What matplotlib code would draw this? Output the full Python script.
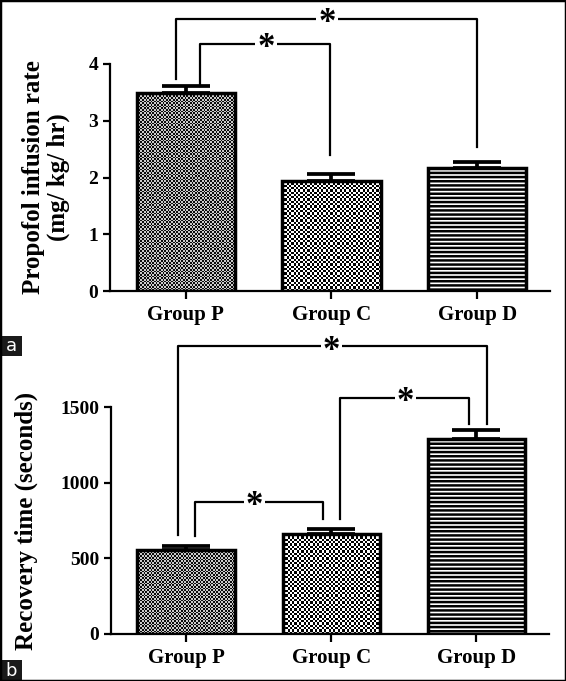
import numpy as np
import matplotlib
matplotlib.use("Agg")
import matplotlib.pyplot as plt
from matplotlib.patches import Rectangle

plt.rcParams['font.family'] = ['Liberation Serif', 'DejaVu Serif']
plt.rcParams['font.weight'] = 'bold'
plt.rcParams['axes.labelweight'] = 'bold'
plt.rcParams['hatch.linewidth'] = 1.8

groups = ["Group P", "Group C", "Group D"]

# panel a: propofol infusion rate (mg/kg/hr)
rate_mean = [3.49, 1.94, 2.16]
rate_err = [0.12, 0.12, 0.12]

# panel b: recovery time (s)
rec_mean = [554, 660, 1287]
rec_err = [27, 33, 63]

# significance brackets: (x_left, x_right, y_left, y_right, y_top, x_star)
sig_a = [
    (0.10, 0.99, 3.62, 2.39, 4.35, 0.55),
    (-0.07, 2.00, 3.74, 2.53, 4.80, 0.97),
]
sig_b = [
    (0.06, 0.94, 649, 763, 875, 0.47),
    (1.06, 1.95, 763, 1390, 1559, 1.51),
    (-0.06, 2.07, 653, 1390, 1900, 1.00),
]

W, H = 566, 681
fig = plt.figure(figsize=(W / 100, H / 100), dpi=100)
ax_a = fig.add_axes([110 / W, 1 - 291 / H, 440 / W, 227 / H])
ax_b = fig.add_axes([111 / W, 1 - 634 / H, 438 / W, 227 / H])


def checker(ax, bar, cell_px, light, dark):
    x0, y0 = bar.get_x(), bar.get_y()
    x1, y1 = x0 + bar.get_width(), y0 + bar.get_height()
    p0 = ax.transData.transform((x0, y0))
    p1 = ax.transData.transform((x1, y1))
    nx = max(2, int(round(abs(p1[0] - p0[0]) / cell_px)))
    ny = max(2, int(round(abs(p1[1] - p0[1]) / cell_px)))
    yy, xx = np.indices((ny, nx))
    img = np.where((xx + yy) % 2 == 1, dark, light)
    im = ax.imshow(img, cmap="gray_r", vmin=0, vmax=1, extent=(x0, x1, y0, y1),
                   interpolation="nearest", aspect="auto", zorder=2)
    im.set_clip_path(bar)


def panel(ax, means, errs, ylim, yticks, ylabel, label_x, sigs, star_dy):
    x = np.arange(len(groups))
    ax.set_xlim(-0.52, 2.5)
    ax.set_ylim(*ylim)
    bars = ax.bar(x, means, width=0.675, facecolor="none", edgecolor="black",
                  linewidth=2.5, zorder=3)
    bars[2].set_hatch("----")
    bars[2].set_facecolor("white")
    bars[2].set_zorder(2.5)
    checker(ax, bars[0], 1.7, 0.2, 0.95)
    checker(ax, bars[1], 2.3, 0.0, 1.0)
    ax.errorbar(x, means, yerr=[np.zeros(len(errs)), errs], fmt="none",
                ecolor="black", elinewidth=2.7, capsize=17, capthick=2.7, zorder=4)
    ax.set_xticks(x)
    ax.set_xticklabels(groups, fontsize=15)
    ax.set_yticks(yticks)
    ax.tick_params(axis="y", labelsize=14, width=1.6, length=5, direction="out")
    ax.tick_params(axis="x", width=1.6, length=6, direction="out", pad=4)
    for s in ("top", "right"):
        ax.spines[s].set_visible(False)
    for s in ("left", "bottom"):
        ax.spines[s].set_linewidth(1.6)
    ax.set_ylabel(ylabel, fontsize=18, fontweight="bold", linespacing=1.1)
    ax.yaxis.set_label_coords(label_x, 0.5)
    for xl, xr, yl, yr, yt, xs in sigs:
        ax.plot([xl, xl, xr, xr], [yl, yt, yt, yr], color="black", lw=1.6,
                clip_on=False, zorder=5)
        ax.text(xs, yt + star_dy, "*", fontsize=25, ha="center", va="center",
                clip_on=False, zorder=6,
                bbox=dict(facecolor="white", edgecolor="none", pad=1.5))


panel(ax_a, rate_mean, rate_err, (0, 4), [0, 1, 2, 3, 4],
      "Propofol infusion rate\n(mg/ kg/ hr)", -0.091, sig_a, -0.08)
panel(ax_b, rec_mean, rec_err, (0, 1500), [0, 500, 1000, 1500],
      "Recovery time (seconds)", -0.167, sig_b, -30)

# panel tags and outer frame
for y0, h, tag in [(1 - 356 / H, 20 / H, "a"), (0, 21 / H, "b")]:
    fig.add_artist(Rectangle((0, y0), 22 / W, h, transform=fig.transFigure,
                             facecolor="#1a1a1a", edgecolor="none"))
    fig.text(11 / W, y0 + h / 2, tag, color="white", fontsize=13,
             family="DejaVu Sans", weight="normal", ha="center", va="center")
fig.add_artist(Rectangle((0, 0), 1, 1, transform=fig.transFigure, fill=False,
                         edgecolor="black", linewidth=2.5))

fig.savefig("out.png", dpi=100)
